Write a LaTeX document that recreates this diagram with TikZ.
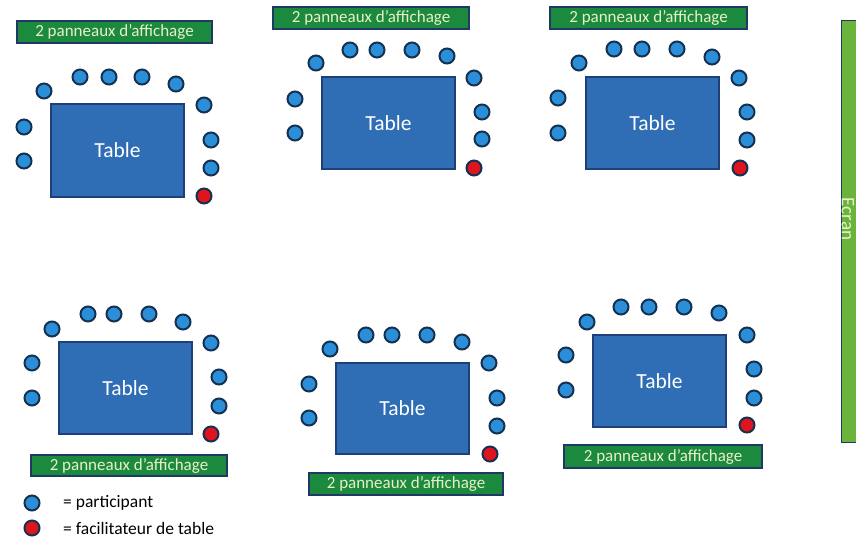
\documentclass[tikz,border=0pt]{standalone}
\usepackage{fontspec}
\setmainfont{Carlito}
\definecolor{tblue}{HTML}{2F6DB5}
\definecolor{tedge}{HTML}{1F3F78}
\definecolor{dblue}{HTML}{2A8FD8}
\definecolor{dedge}{HTML}{16304F}
\definecolor{dred}{HTML}{E0141E}
\definecolor{sgreen}{HTML}{1C8A3E}
\definecolor{sedge}{HTML}{1F3864}
\definecolor{stext}{HTML}{E8F0C8}
\definecolor{egreen}{HTML}{6BB43C}
\begin{document}
\begin{tikzpicture}[x=1pt,y=-1pt,
  tablebox/.style={draw=tedge,fill=tblue,line width=1.5pt,inner sep=0pt,text=white,font=\fontsize{21.5}{23}\selectfont},
  pdot/.style={circle,draw=dedge,fill=dblue,line width=2pt,minimum size=15pt,inner sep=0pt},
  fdot/.style={pdot,fill=dred},
  sign/.style={draw=sedge,fill=sgreen,line width=1.2pt,inner sep=0pt,text=stext,font=\fontsize{17}{19}\selectfont},
  legtext/.style={anchor=west,inner sep=0pt,font=\fontsize{17.5}{19}\selectfont,text=black}]
\useasboundingbox (0,0) rectangle (856,542);
% Ecran
\node[draw=sedge,fill=egreen,line width=1.4pt,minimum width=24pt,minimum height=422pt,inner sep=0pt,anchor=north west] (ecranbar) at (841,20) {};
\node[rotate=-90,text=stext,font=\fontsize{19}{21}\selectfont,inner sep=0pt] (ecran) at (848,219) {Ecran};
% Group 1
\node[sign,minimum width=195pt,minimum height=22pt] (s1) at (114.5,32) {2 panneaux d’affichage};
\node[tablebox,minimum width=133pt,minimum height=93pt] (t1) at (117.5,150.5) {Table};
\foreach \x/\y [count=\i] in {44/91,80/77,109/77,142/77,176/84,204/105,211/140,211/168,24/127,24/161}
  \node[pdot] (g1p\i) at (\x,\y) {};
\node[fdot] (g1f) at (204,196) {};
% Group 2
\node[sign,minimum width=196pt,minimum height=22pt] (s2) at (371,18) {2 panneaux d’affichage};
\node[tablebox,minimum width=133pt,minimum height=92pt] (t2) at (388.5,123) {Table};
\foreach \x/\y [count=\i] in {316/63,350/50,377/50,412/50,447/56,474/78,482/112,482/139,295/99,295/133}
  \node[pdot] (g2p\i) at (\x,\y) {};
\node[fdot] (g2f) at (474,168) {};
% Group 3
\node[sign,minimum width=197pt,minimum height=22pt] (s3) at (648.5,18) {2 panneaux d’affichage};
\node[tablebox,minimum width=133pt,minimum height=92pt] (t3) at (652.5,123) {Table};
\foreach \x/\y [count=\i] in {579/63,614/49,642/49,677/49,712/57,739/78,747/112,747/140,558/98,558/133}
  \node[pdot] (g3p\i) at (\x,\y) {};
\node[fdot] (g3f) at (740,168) {};
% Group 4
\node[tablebox,minimum width=133pt,minimum height=92pt] (t4) at (125.5,388) {Table};
\foreach \x/\y [count=\i] in {52/329,88/314,114/314,149/314,183/322,211/343,219/377,219/406,32/363,32/398}
  \node[pdot] (g4p\i) at (\x,\y) {};
\node[fdot] (g4f) at (211,434) {};
\node[sign,minimum width=196pt,minimum height=21pt] (s4) at (129,465.5) {2 panneaux d’affichage};
% Group 5
\node[tablebox,minimum width=133pt,minimum height=91pt] (t5) at (402.5,408.5) {Table};
\foreach \x/\y [count=\i] in {330/349,366/335,392/335,427/335,462/342,489/363,497/398,497/426,309/384,309/418}
  \node[pdot] (g5p\i) at (\x,\y) {};
\node[fdot] (g5f) at (490,454) {};
\node[sign,minimum width=194pt,minimum height=22pt] (s5) at (406,484) {2 panneaux d’affichage};
% Group 6
\node[tablebox,minimum width=133pt,minimum height=92pt] (t6) at (659.5,381) {Table};
\foreach \x/\y [count=\i] in {587/322,621/307,649/307,684/307,719/313,747/335,754/369,754/398,566/355,566/390}
  \node[pdot] (g6p\i) at (\x,\y) {};
\node[fdot] (g6f) at (747,425) {};
\node[sign,minimum width=198pt,minimum height=23pt] (s6) at (663,456.5) {2 panneaux d’affichage};
% Legend
\node[pdot] (legp) at (32,503) {};
\node[fdot] (legf) at (32,528) {};
\node[legtext] (legpt) at (63,503) {= participant};
\node[legtext] (legft) at (63,528) {= facilitateur de table};
\end{tikzpicture}
\end{document}
